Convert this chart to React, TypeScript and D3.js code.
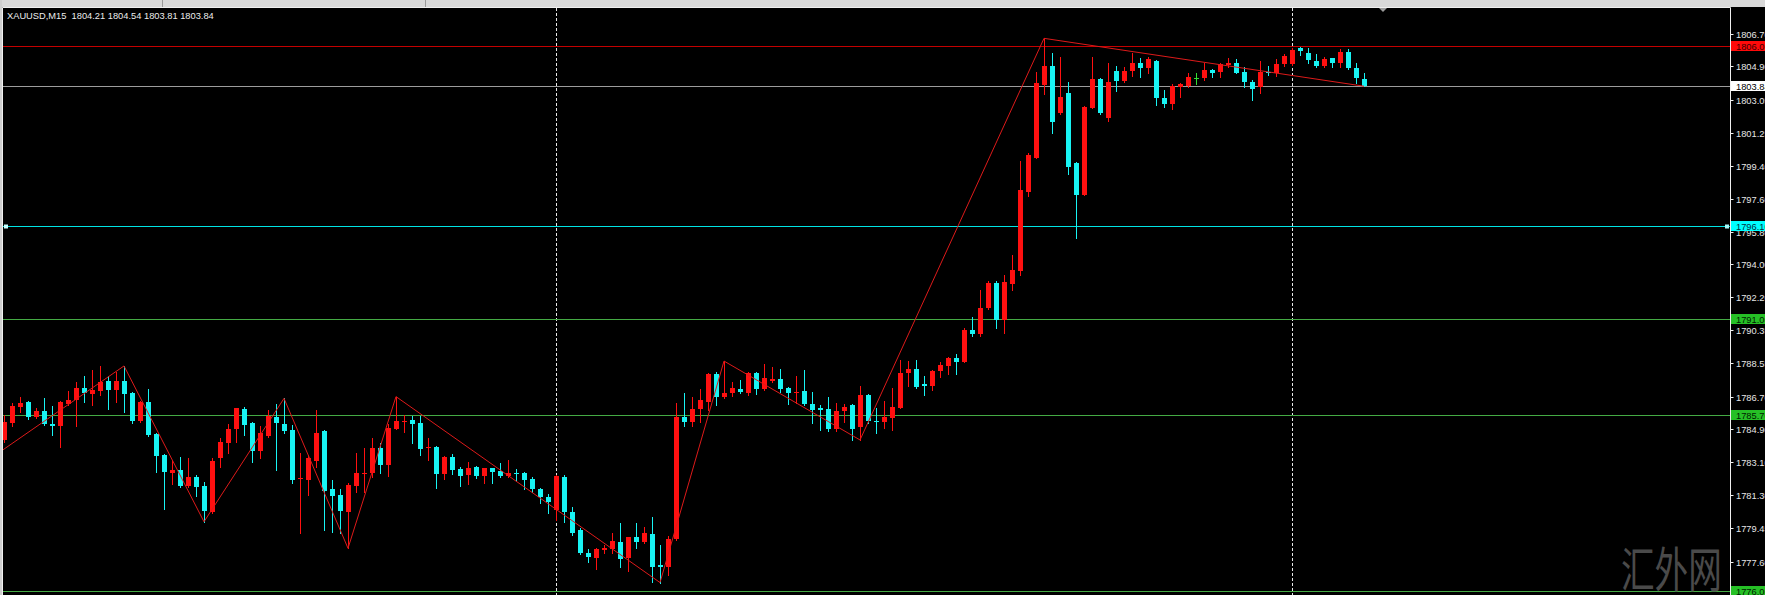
import React from "react";
import * as d3 from "d3";

const W = 1765;
const H = 595;

const headerText = "XAUUSD,M15  1804.21 1804.54 1803.81 1803.84";

const opens = [
  1784.31, 1785.26, 1786.15, 1786.38, 1785.59, 1785.91, 1785.19, 1785.1, 1786.29, 1786.51,
  1787.16, 1786.84, 1787.03, 1787.58, 1787.06, 1787.58, 1786.92, 1785.36, 1786.38, 1784.64,
  1783.48, 1782.51, 1782.65, 1781.79, 1782.29, 1781.77, 1780.36, 1783.3, 1784.16, 1784.91,
  1786.0, 1785.23, 1783.72, 1784.53, 1785.56, 1785.19, 1784.86, 1782.14, 1782.1, 1783.17,
  1784.82, 1781.61, 1781.27, 1780.32, 1781.79, 1782.43, 1782.51, 1783.85, 1782.93, 1784.91,
  1785.32, 1785.41, 1785.26, 1783.85, 1783.94, 1782.43, 1783.39, 1782.71, 1782.38, 1782.84,
  1782.32, 1782.75, 1782.62, 1782.32, 1782.47, 1782.47, 1782.14, 1781.59, 1781.18, 1780.45,
  1782.29, 1780.36, 1779.35, 1778.1, 1777.82, 1778.25, 1778.3, 1778.67, 1777.82, 1778.94,
  1778.71, 1779.13, 1777.42, 1777.33, 1778.85, 1785.56, 1785.28, 1786.0, 1786.42, 1787.95,
  1786.66, 1786.88, 1787.1, 1786.88, 1787.98, 1787.12, 1787.58, 1787.67, 1787.16, 1786.92,
  1787.01, 1786.29, 1786.05, 1786.02, 1784.89, 1785.92, 1786.24, 1785.01, 1786.79, 1785.37,
  1785.32, 1785.5, 1786.09, 1787.98, 1788.22, 1787.39, 1787.28, 1788.13, 1788.4, 1788.84,
  1788.62, 1790.37, 1790.15, 1791.56, 1792.98, 1790.9, 1792.9, 1793.6, 1798.0, 1799.88,
  1803.85, 1804.95, 1802.32, 1803.42, 1799.6, 1797.82, 1802.63, 1804.21, 1802.04, 1804.67,
  1804.12, 1804.67, 1805.11, 1804.83, 1805.2, 1803.14, 1802.83, 1803.79, 1803.82, 1804.25,
  1804.25, 1804.71, 1804.61, 1804.98, 1805.07, 1804.61, 1804.06, 1803.79, 1804.61, 1804.52,
  1805.04, 1805.04, 1805.9, 1805.62, 1805.2, 1804.94, 1805.35, 1805.11, 1805.71, 1804.8,
  1804.21,
];
const highs = [
  1785.69, 1786.33, 1786.66, 1786.46, 1786.05, 1786.6, 1786.18, 1786.46, 1787.03, 1787.52,
  1787.84, 1788.17, 1788.39, 1787.84, 1788.07, 1788.39, 1786.97, 1786.46, 1787.1, 1784.67,
  1783.52, 1783.2, 1783.35, 1783.33, 1782.38, 1782.01, 1783.3, 1784.4, 1785.19, 1786.05,
  1786.15, 1785.32, 1785.08, 1785.96, 1786.29, 1786.6, 1785.13, 1783.57, 1783.48, 1785.96,
  1784.86, 1782.1, 1781.59, 1781.95, 1783.61, 1783.85, 1784.44, 1784.12, 1785.19, 1786.7,
  1785.69, 1785.63, 1785.63, 1784.44, 1783.98, 1783.43, 1783.52, 1782.84, 1783.11, 1782.9,
  1782.78, 1782.78, 1783.06, 1783.2, 1782.69, 1782.54, 1782.25, 1781.64, 1781.33, 1782.38,
  1782.38, 1780.63, 1779.44, 1778.28, 1778.34, 1778.52, 1779.16, 1779.75, 1778.98, 1779.72,
  1779.53, 1780.08, 1778.52, 1779.02, 1786.33, 1786.88, 1786.66, 1787.1, 1787.98, 1788.08,
  1788.66, 1787.53, 1787.61, 1788.04, 1788.04, 1788.5, 1788.31, 1788.22, 1787.25, 1787.84,
  1788.17, 1786.97, 1786.24, 1786.66, 1786.37, 1786.27, 1786.29, 1787.28, 1786.84, 1786.05,
  1786.47, 1787.15, 1788.71, 1788.66, 1788.71, 1787.83, 1788.16, 1788.62, 1788.9, 1789.04,
  1790.5, 1791.07, 1792.57, 1793.09, 1793.09, 1793.4, 1794.5, 1799.69, 1800.12, 1804.62,
  1806.45, 1805.63, 1805.44, 1804.07, 1799.65, 1802.72, 1805.44, 1804.25, 1805.07, 1804.93,
  1804.89, 1805.62, 1805.35, 1805.4, 1805.26, 1803.6, 1803.91, 1803.97, 1804.56, 1804.56,
  1805.07, 1804.75, 1805.11, 1805.35, 1805.29, 1804.89, 1804.15, 1805.2, 1804.93, 1805.29,
  1805.59, 1805.9, 1805.99, 1805.9, 1805.59, 1805.4, 1805.35, 1805.84, 1805.84, 1805.11,
  1804.54,
];
const lows = [
  1784.22, 1785.08, 1785.87, 1785.45, 1785.5, 1785.13, 1784.58, 1783.94, 1786.24, 1785.08,
  1786.42, 1786.24, 1786.79, 1786.02, 1786.38, 1785.87, 1785.23, 1785.32, 1784.53, 1782.56,
  1780.49, 1781.88, 1781.73, 1781.73, 1781.22, 1779.8, 1780.3, 1782.84, 1783.57, 1784.22,
  1784.58, 1783.11, 1783.3, 1784.49, 1782.65, 1784.71, 1781.95, 1779.16, 1781.27, 1782.84,
  1779.35, 1779.25, 1779.16, 1778.34, 1781.46, 1781.46, 1782.29, 1782.51, 1782.32, 1784.89,
  1784.77, 1784.16, 1783.48, 1783.2, 1781.68, 1782.14, 1782.41, 1781.79, 1781.88, 1782.23,
  1781.95, 1781.95, 1782.25, 1782.25, 1782.05, 1781.59, 1781.46, 1780.82, 1780.26, 1779.9,
  1779.8, 1779.07, 1778.03, 1777.6, 1777.18, 1778.06, 1778.1, 1777.33, 1777.11, 1778.34,
  1778.65, 1776.5, 1776.45, 1776.87, 1778.8, 1785.1, 1785.1, 1785.32, 1785.96, 1786.24,
  1786.61, 1786.74, 1786.88, 1786.79, 1786.84, 1787.06, 1787.52, 1786.97, 1786.29, 1786.33,
  1786.24, 1785.23, 1784.86, 1784.82, 1784.82, 1785.32, 1784.31, 1784.31, 1785.26, 1784.67,
  1784.95, 1784.86, 1786.05, 1787.3, 1787.15, 1786.78, 1787.06, 1787.8, 1787.94, 1787.94,
  1788.59, 1790.06, 1790.06, 1791.53, 1790.46, 1790.2, 1792.6, 1793.4, 1797.78, 1799.85,
  1803.39, 1801.22, 1802.3, 1798.96, 1795.43, 1797.8, 1802.6, 1802.27, 1801.9, 1803.57,
  1804.03, 1804.39, 1804.34, 1804.52, 1802.78, 1802.65, 1802.54, 1803.23, 1803.75, 1803.93,
  1804.16, 1804.34, 1804.3, 1804.85, 1804.52, 1803.75, 1803.05, 1803.46, 1804.43, 1804.37,
  1804.94, 1804.98, 1805.53, 1805.11, 1804.85, 1804.85, 1804.85, 1804.85, 1804.74, 1804.01,
  1803.81,
];
const closes = [
  1785.32, 1786.18, 1786.37, 1785.56, 1785.92, 1785.17, 1785.1, 1786.38, 1786.51, 1787.16,
  1786.88, 1787.06, 1787.52, 1787.06, 1787.56, 1786.83, 1785.36, 1786.42, 1784.58, 1783.43,
  1782.56, 1782.65, 1781.79, 1782.29, 1781.73, 1780.39, 1783.15, 1784.22, 1784.91, 1786.05,
  1785.13, 1783.72, 1784.67, 1785.63, 1785.23, 1784.82, 1782.1, 1782.19, 1783.3, 1784.71,
  1781.51, 1781.22, 1780.41, 1781.83, 1782.47, 1782.47, 1783.85, 1782.93, 1784.95, 1785.36,
  1785.36, 1785.19, 1783.81, 1783.9, 1782.43, 1783.39, 1782.65, 1782.32, 1782.75, 1782.32,
  1782.75, 1782.52, 1782.32, 1782.47, 1782.43, 1782.1, 1781.61, 1781.18, 1780.91, 1782.32,
  1780.36, 1779.16, 1778.06, 1777.84, 1778.28, 1778.34, 1778.74, 1777.73, 1778.94, 1778.71,
  1779.16, 1777.33, 1777.33, 1778.83, 1785.56, 1785.28, 1786.02, 1786.52, 1787.95, 1786.66,
  1786.92, 1787.16, 1786.94, 1787.98, 1787.12, 1787.74, 1787.67, 1787.12, 1786.92, 1786.97,
  1786.27, 1785.96, 1785.96, 1784.89, 1785.91, 1786.15, 1784.89, 1786.79, 1785.36, 1785.32,
  1785.59, 1786.11, 1787.98, 1788.22, 1787.24, 1787.3, 1788.11, 1788.44, 1788.84, 1788.62,
  1790.37, 1790.15, 1791.56, 1792.98, 1790.92, 1793.0, 1793.7, 1798.09, 1800.02, 1803.97,
  1804.95, 1801.82, 1803.24, 1799.38, 1797.82, 1802.69, 1804.21, 1802.32, 1804.06, 1804.12,
  1804.67, 1805.11, 1804.8, 1805.29, 1803.14, 1802.83, 1803.84, 1803.93, 1804.34, 1804.25,
  1804.71, 1804.52, 1805.04, 1805.11, 1804.56, 1804.06, 1803.64, 1804.61, 1804.52, 1805.04,
  1805.48, 1805.81, 1805.77, 1805.26, 1804.94, 1805.29, 1805.07, 1805.71, 1804.8, 1804.25,
  1803.84,
];

const zigzagIndex = [-1, 15, 25, 35, 43, 49, 82, 90, 107, 130, 170];
const zigzagPrice = [1783.5, 1788.39, 1779.8, 1786.6, 1778.34, 1786.7, 1776.45, 1788.66, 1784.31, 1806.45, 1803.81];

const tickLabels = [
  "1806.70", "1804.90", "1803.05", "1801.25", "1799.40", "1797.60", "1795.80", "1794.00",
  "1792.20", "1790.35", "1788.55", "1786.70", "1784.90", "1783.10", "1781.30", "1779.45", "1777.60",
];

const levelValues = [1806.0, 1803.84, 1796.1, 1791.0, 1785.7, 1776.0];
const levelLabels = ["1806.00", "1803.84", "1796.10", "1791.00", "1785.70", "1776.00"];
const levelKinds = ["red", "price", "cyan", "green", "green", "green"];

const separatorIndex = [69, 161];

const LEVEL_STYLE: Record<string, { line: string; box: string; text: string }> = {
  red: { line: "#c40000", box: "#ff0a0a", text: "#3a0000" },
  price: { line: "#9c9c9c", box: "#ffffff", text: "#000000" },
  cyan: { line: "#00e4e4", box: "#00ffff", text: "#003040" },
  green: { line: "#44aa44", box: "#26c026", text: "#002000" },
};

const BULL = "#ff1010";
const BEAR = "#18f4f4";
const DOJI = "#33dd33";

const PLOT_L = 2.5;
const PLOT_R = 1730.5;
const PLOT_T = 7.5;
const FONT = "'Liberation Sans', Arial, sans-serif";

export default function App() {
  const x = d3.scaleLinear().domain([0, 170]).range([4, 1364]);
  const y = d3.scaleLinear().domain([1806.7, 1776.0]).range([33.8, 590.7]);

  const zz = d3
    .line<number>()
    .x((_, i) => x(zigzagIndex[i]))
    .y((p) => y(p))(zigzagPrice) as string;

  const candles = opens.map((o, i) => {
    const c = closes[i];
    const h = highs[i];
    const l = lows[i];
    const cx = Math.round(x(i));
    const color = c > o ? BULL : c < o ? BEAR : DOJI;
    const top = Math.round(y(Math.max(o, c)));
    const bot = Math.round(y(Math.min(o, c)));
    const hy = Math.round(y(h));
    const ly = Math.round(y(l));
    return (
      <g key={i}>
        <line x1={cx + 0.5} x2={cx + 0.5} y1={hy} y2={ly + 1} stroke={color} strokeWidth={1} />
        <rect x={cx - 2} y={top} width={5} height={Math.max(1, bot - top)} fill={color} />
      </g>
    );
  });

  const triX = Math.round(x(172.4));

  return (
    <div style={{ position: "absolute", left: 0, top: 0, width: W, height: H, overflow: "hidden" }}>
      <svg width={W} height={H} style={{ display: "block" }}>
        <defs>
          <clipPath id="plotClip">
            <rect x={3} y={8} width={PLOT_R - 3} height={H - 8} />
          </clipPath>
        </defs>
        <rect x={0} y={0} width={W} height={H} fill="#000" />
        {/* toolbar strip */}
        <rect x={0} y={0} width={W} height={7} fill="#d9d9d9" />
        <rect x={0} y={0} width={2} height={H} fill="#cfcfcf" />
        <line x1={162.5} x2={162.5} y1={0} y2={7} stroke="#9a9a9a" />
        <line x1={425.5} x2={425.5} y1={0} y2={7} stroke="#9a9a9a" />
        <line x1={PLOT_L} x2={PLOT_R} y1={PLOT_T} y2={PLOT_T} stroke="#f0f0f0" />
        <line x1={PLOT_L} x2={PLOT_L} y1={PLOT_T} y2={H} stroke="#f0f0f0" />

        <g clipPath="url(#plotClip)">
          {separatorIndex.map((s) => (
            <line
              key={s}
              x1={Math.round(x(s)) + 0.5}
              x2={Math.round(x(s)) + 0.5}
              y1={8}
              y2={H}
              stroke="#e8e8e8"
              strokeDasharray="3,2"
            />
          ))}
          {levelValues.map((v, i) => (
            <line
              key={"lv" + i}
              x1={3}
              x2={PLOT_R}
              y1={Math.round(y(v)) + 0.5}
              y2={Math.round(y(v)) + 0.5}
              stroke={LEVEL_STYLE[levelKinds[i]].line}
              strokeWidth={1}
            />
          ))}
          {candles}
          <path d={zz} fill="none" stroke="#dd1a1a" strokeWidth={1} />
          <rect x={4} y={Math.round(y(1796.1)) - 1.5} width={4} height={4} fill="#c8ffff" />
          <rect x={1725} y={Math.round(y(1796.1)) - 1.5} width={4} height={4} fill="#a8f8f8" />
          <path d={`M${triX - 4},8 L${triX + 4},8 L${triX},12 Z`} fill="#9a9a9a" />
        </g>

        <text x={7} y={19} fill="#ececec" fontSize={9.3} fontFamily={FONT} style={{ whiteSpace: "pre" }}>
          {headerText}
        </text>

        <g transform="translate(1621,587) scale(0.7,1)">
          <text x={0} y={0} fontSize={48} fill="#4a4a4a" fontFamily="'Noto Sans CJK SC', sans-serif">
            汇外网
          </text>
        </g>

        <line x1={PLOT_R} x2={PLOT_R} y1={PLOT_T} y2={H} stroke="#f0f0f0" />
        {tickLabels.map((t, i) => {
          const ty = Math.round(y(Number(t)));
          return (
            <g key={"tk" + i}>
              <line x1={PLOT_R} x2={PLOT_R + 3} y1={ty + 0.5} y2={ty + 0.5} stroke="#f0f0f0" />
              <text x={1736} y={ty + 3.5} fill="#e6e6e6" fontSize={9.3} fontFamily={FONT}>
                {t}
              </text>
            </g>
          );
        })}
        {levelValues.map((v, i) => {
          const st = LEVEL_STYLE[levelKinds[i]];
          const ly = Math.round(y(v));
          return (
            <g key={"lb" + i}>
              <rect x={1731} y={ly - 5} width={40} height={10} fill={st.box} />
              <text x={1736} y={ly + 3.5} fill={st.text} fontSize={9.3} fontFamily={FONT}>
                {levelLabels[i]}
              </text>
            </g>
          );
        })}
      </svg>
    </div>
  );
}
